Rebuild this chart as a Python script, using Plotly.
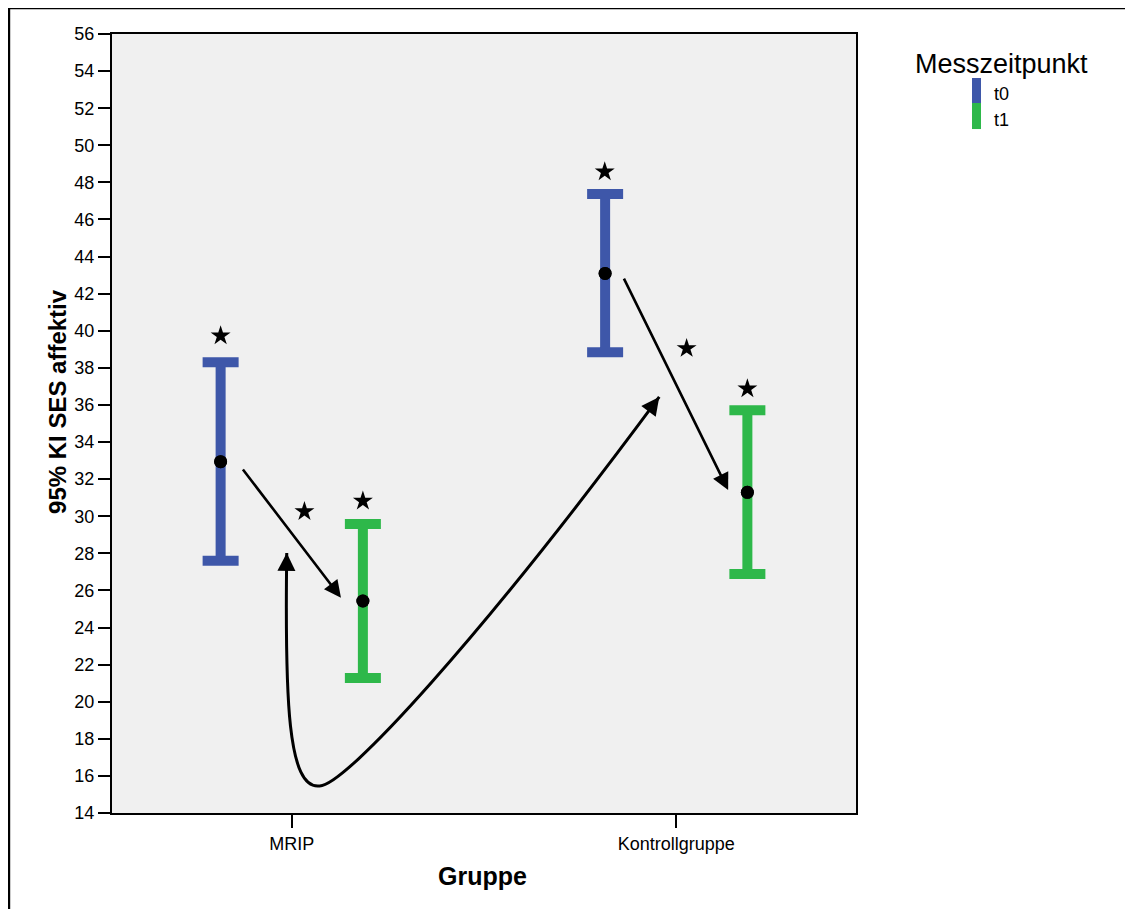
import plotly.graph_objects as go

# ---------------- data ----------------
groups = ["MRIP", "Kontrollgruppe"]
timepoints = ["t0", "t1"]
colors = {"t0": "#3E57A9", "t1": "#2EB84A"}

mean_t0 = [32.94, 43.09]
lower_t0 = [27.60, 38.84]
upper_t0 = [38.30, 47.37]

mean_t1 = [25.43, 31.29]
lower_t1 = [21.28, 26.88]
upper_t1 = [29.58, 35.71]

offsets = {"t0": -0.185, "t1": 0.185}

# significance stars (x in group units, y in scale units)
star_x = [-0.185, 0.185, 0.033, 0.814, 1.185, 1.027]
star_y = [39.73, 30.82, 30.26, 48.57, 36.87, 39.05]

y_ticks = list(range(14, 57, 2))

# straight arrows: (tail_x, tail_y, head_x, head_y) in data units
arrows = [(-0.130, 32.60, 0.128, 25.61),
          (0.862, 42.89, 1.135, 31.41)]

# curved arrow path, data units
curve = [(-0.0130, 28.02), (-0.0182, 20.09), (-0.0104, 15.24), (0.0727, 15.46),
         (0.1377, 15.46), (0.4883, 23.33), (0.9558, 36.43)]
curve_heads = [(-0.0138, 27.10, -0.0130, 28.02),
               (0.9325, 35.78, 0.9558, 36.43)]

FONT = "Liberation Sans, Arial, sans-serif"

fig = go.Figure()

series = {"t0": (mean_t0, lower_t0, upper_t0), "t1": (mean_t1, lower_t1, upper_t1)}
for tp in timepoints:
    m, lo, hi = series[tp]
    xs = [i + offsets[tp] for i in range(len(groups))]
    fig.add_trace(go.Scatter(
        x=xs, y=m, mode="markers", name=tp, showlegend=False,
        marker=dict(color="black", size=13),
        error_y=dict(type="data", symmetric=False,
                     array=[h - v for h, v in zip(hi, m)],
                     arrayminus=[v - l for v, l in zip(m, lo)],
                     color=colors[tp], thickness=10, width=18),
    ))
# re-draw mean points on top of the bars
for tp in timepoints:
    m = series[tp][0]
    xs = [i + offsets[tp] for i in range(len(groups))]
    fig.add_trace(go.Scatter(x=xs, y=m, mode="markers", showlegend=False,
                             marker=dict(color="black", size=13)))

fig.add_trace(go.Scatter(x=star_x, y=star_y, mode="markers", showlegend=False,
                         marker=dict(symbol="star", color="black", size=15)))

shapes = []
# curved arrow
p = curve
path = "M {} {} C {} {}, {} {}, {} {} C {} {}, {} {}, {} {}".format(
    p[0][0], p[0][1], p[1][0], p[1][1], p[2][0], p[2][1], p[3][0], p[3][1],
    p[4][0], p[4][1], p[5][0], p[5][1], p[6][0], p[6][1])
shapes.append(dict(type="path", xref="x", yref="y", path=path,
                   line=dict(color="black", width=3)))

# outer frame (only top and left edges are inside the picture)
shapes.append(dict(type="line", xref="paper", yref="paper",
                   x0=-0.1385, x1=1.40, y0=1.0334, y1=1.0334,
                   line=dict(color="black", width=2.5), layer="above"))
shapes.append(dict(type="line", xref="paper", yref="paper",
                   x0=-0.1385, x1=-0.1385, y0=-0.16, y1=1.0334,
                   line=dict(color="black", width=2.5), layer="above"))

# legend swatches
shapes.append(dict(type="rect", xref="paper", yref="paper",
                   x0=1.1559, x1=1.168, y0=0.9114, y1=0.9435,
                   fillcolor=colors["t0"], line=dict(width=0)))
shapes.append(dict(type="rect", xref="paper", yref="paper",
                   x0=1.1559, x1=1.168, y0=0.878, y1=0.9114,
                   fillcolor=colors["t1"], line=dict(width=0)))

annotations = []
for tx, ty, hx, hy in arrows:
    annotations.append(dict(x=hx, y=hy, ax=tx, ay=ty, xref="x", yref="y",
                            axref="x", ayref="y", text="", showarrow=True,
                            arrowhead=2, arrowsize=1.3, arrowwidth=2.6,
                            arrowcolor="black", standoff=0, startstandoff=0))
for tx, ty, hx, hy in curve_heads:
    annotations.append(dict(x=hx, y=hy, ax=tx, ay=ty, xref="x", yref="y",
                            axref="x", ayref="y", text="", showarrow=True,
                            arrowhead=2, arrowsize=1.2, arrowwidth=3,
                            arrowcolor="black", standoff=0, startstandoff=0))

annotations.append(dict(text="<b>95% KI SES affektiv</b>", xref="paper", yref="paper",
                        x=-0.0726, y=0.5289, textangle=-90, showarrow=False,
                        xanchor="center", yanchor="middle",
                        font=dict(family=FONT, size=24, color="black")))
annotations.append(dict(text="<b>Gruppe</b>", xref="paper", yref="paper",
                        x=0.498, y=-0.0809, showarrow=False,
                        xanchor="center", yanchor="middle",
                        font=dict(family=FONT, size=25, color="black")))
annotations.append(dict(text="Messzeitpunkt", xref="paper", yref="paper",
                        x=1.1949, y=0.962, showarrow=False,
                        xanchor="center", yanchor="middle",
                        font=dict(family=FONT, size=27, color="black")))
annotations.append(dict(text="t0", xref="paper", yref="paper",
                        x=1.1828, y=0.923, showarrow=False,
                        xanchor="left", yanchor="middle",
                        font=dict(family=FONT, size=18, color="black")))
annotations.append(dict(text="t1", xref="paper", yref="paper",
                        x=1.1828, y=0.8896, showarrow=False,
                        xanchor="left", yanchor="middle",
                        font=dict(family=FONT, size=18, color="black")))

fig.update_layout(
    width=1117, height=901,
    margin=dict(l=104, r=269, t=26, b=96),
    paper_bgcolor="white", plot_bgcolor="#F0F0F0",
    font=dict(family=FONT, color="black"),
    showlegend=False,
    shapes=shapes, annotations=annotations,
    xaxis=dict(range=[-0.4675, 1.4675], tickvals=list(range(len(groups))),
               ticktext=groups, ticks="outside", ticklen=13, tickwidth=2,
               tickcolor="black", showline=True, linewidth=2, linecolor="black",
               mirror=True, showgrid=False, zeroline=False,
               tickfont=dict(family=FONT, size=18, color="black")),
    yaxis=dict(range=[14, 56], tickvals=y_ticks, ticks="outside", ticklen=12,
               tickwidth=2, tickcolor="black", showline=True, linewidth=2,
               linecolor="black", mirror=True, showgrid=False, zeroline=False,
               tickfont=dict(family=FONT, size=18, color="black")),
)

fig.write_html("out.html")
